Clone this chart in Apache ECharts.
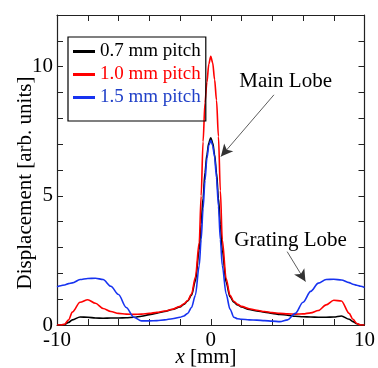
<!DOCTYPE html>
<html>
<head>
<meta charset="utf-8">
<script src="https://cdn.jsdelivr.net/npm/echarts@6/dist/echarts.min.js"></script>
<style>
html, body { margin: 0; padding: 0; background: #fff; }
#chart { width: 378px; height: 368px; }
</style>
</head>
<body>
<div id="chart"></div>
<script>
// x positions [mm]
var xs = [-10, -9.75, -9.5, -9.25, -9, -8.5, -8, -7.5, -7, -6.5, -6, -5.5, -5, -4.5, -4, -3.5, -3, -2.5, -2,
  -1.75, -1.5, -1.25, -1, -0.75, -0.625, -0.5, -0.375, -0.25, -0.125, 0, 0.125, 0.25, 0.375, 0.5, 0.625, 0.75, 1,
  1.25, 1.5, 1.75, 2, 2.5, 3, 3.5, 4, 4.5, 5, 5.5, 6, 6.5, 7, 7.5, 8, 8.5, 9, 9.25, 9.5, 9.75, 10]

// displacement [arb. units]
var pitch07 = [0, 0, 0.02, 0.1, 0.2, 0.31, 0.3, 0.27, 0.26, 0.27, 0.27, 0.28, 0.3, 0.34, 0.4, 0.46, 0.52, 0.6, 0.7,
  0.8, 0.93, 1.15, 1.7, 2.9, 3.9, 4.9, 5.9, 6.6, 7.05, 7.25, 7.05, 6.6, 5.9, 4.9, 3.9, 2.9, 1.65,
  1.1, 0.88, 0.78, 0.7, 0.6, 0.54, 0.5, 0.45, 0.41, 0.38, 0.34, 0.32, 0.31, 0.3, 0.3, 0.31, 0.35, 0.22, 0.13, 0.05, 0, 0]
var pitch10 = [0, 0, 0.03, 0.2, 0.5, 0.88, 0.98, 0.84, 0.64, 0.52, 0.45, 0.42, 0.41, 0.42, 0.45, 0.49, 0.54, 0.61, 0.72,
  0.82, 0.95, 1.2, 1.85, 3.2, 5.0, 7.1, 8.6, 9.4, 10.1, 10.4, 10.15, 9.5, 8.7, 7.3, 5.2, 3.3, 1.8,
  1.15, 0.92, 0.8, 0.72, 0.63, 0.57, 0.52, 0.48, 0.45, 0.43, 0.42, 0.43, 0.47, 0.56, 0.78, 0.96, 0.93, 0.45, 0.22, 0.06, 0, 0]
var pitch15 = [1.48, 1.52, 1.55, 1.6, 1.63, 1.76, 1.8, 1.81, 1.76, 1.5, 1.18, 0.68, 0.3, 0.16, 0.16, 0.17, 0.2, 0.24, 0.3,
  0.35, 0.45, 0.68, 1.15, 2.3, 3.3, 4.5, 5.6, 6.45, 6.95, 7.15, 6.95, 6.5, 5.7, 4.6, 3.3, 2.3, 1.2,
  0.62, 0.3, 0.24, 0.22, 0.2, 0.19, 0.17, 0.15, 0.13, 0.2, 0.45, 0.88, 1.3, 1.62, 1.76, 1.77, 1.74, 1.64, 1.58, 1.54, 1.5, 1.45]

var seriesNames = ['0.7 mm pitch', '1.0 mm pitch', '1.5 mm pitch']
var xLabels = [-10, 0, 10]
var yLabels = [0, 5, 10]

// annotation anchors in data coords
var mainLobeText = [4.87, 9.43]
var mainLobeArrow = [[4.11, 8.91], [0.66, 6.52]]
var gratingText = [5.19, 3.29]
var gratingArrow = [[4.97, 2.84], [6.16, 1.68]]

var serif = "'Liberation Serif', 'DejaVu Serif', serif"

function pairs (ys) {
  return xs.map(function (x, i) { return [x, ys[i]] })
}

var chart = echarts.init(document.getElementById('chart'))

var axisLine = { show: true, onZero: false, lineStyle: { color: '#222', width: 1.2 } }
var tick = { show: true, inside: true, length: 6, lineStyle: { color: '#222', width: 1 } }

function lineSeries (name, ys, color) {
  return {
    name: name,
    type: 'line',
    data: pairs(ys),
    symbol: 'none',
    smooth: 0.3,
    smoothMonotone: 'x',
    lineStyle: { color: color, width: 1.6 },
    itemStyle: { color: color },
    z: 3
  }
}

var blue = lineSeries(seriesNames[2], pitch15, '#1733f0')
blue.markLine = {
  silent: true,
  symbol: ['none', 'arrow'],
  symbolSize: [9, 12],
  label: { show: false },
  lineStyle: { color: '#333', width: 0.8, type: 'solid' },
  data: [
    [{ coord: mainLobeArrow[0] }, { coord: mainLobeArrow[1] }],
    [{ coord: gratingArrow[0] }, { coord: gratingArrow[1] }]
  ]
}
blue.markPoint = {
  silent: true,
  symbol: 'circle',
  symbolSize: 0,
  label: { show: true, position: 'inside', color: '#000', fontFamily: serif, fontSize: 21 },
  data: [
    { coord: mainLobeText, label: { formatter: 'Main Lobe' } },
    { coord: gratingText, label: { formatter: 'Grating Lobe' } }
  ]
}

chart.setOption({
  animation: false,
  backgroundColor: '#fff',
  grid: { left: 57, right: 12, top: 15, bottom: 43 },
  legend: {
    orient: 'vertical',
    left: 68,
    top: 37,
    padding: [5, 5, 14, 5],
    itemGap: 4,
    itemWidth: 22,
    itemHeight: 3,
    icon: 'rect',
    borderColor: '#000',
    borderWidth: 1.2,
    selectedMode: false,
    textStyle: { fontFamily: serif, fontSize: 19, lineHeight: 19 },
    data: [
      { name: seriesNames[0], textStyle: { color: '#000' } },
      { name: seriesNames[1], textStyle: { color: '#ff0000' } },
      { name: seriesNames[2], textStyle: { color: '#2040c8' } }
    ]
  },
  xAxis: [{
    type: 'value',
    min: -10,
    max: 10,
    interval: 2,
    axisLine: axisLine,
    axisTick: tick,
    splitLine: { show: false },
    axisLabel: {
      margin: 5,
      color: '#000',
      fontFamily: serif,
      fontSize: 21,
      formatter: function (v) { return xLabels.indexOf(v) >= 0 ? String(v) : '' }
    }
  }, {
    type: 'value',
    position: 'top',
    min: -10,
    max: 10,
    interval: 2,
    axisLine: axisLine,
    axisTick: tick,
    splitLine: { show: false },
    axisLabel: { show: false }
  }],
  yAxis: [{
    type: 'value',
    min: 0,
    max: 12,
    interval: 1,
    axisLine: axisLine,
    axisTick: tick,
    splitLine: { show: false },
    axisLabel: {
      margin: 4,
      color: '#000',
      fontFamily: serif,
      fontSize: 21,
      formatter: function (v) { return yLabels.indexOf(v) >= 0 ? String(v) : '' }
    }
  }, {
    type: 'value',
    position: 'right',
    min: 0,
    max: 12,
    interval: 1,
    axisLine: axisLine,
    axisTick: tick,
    splitLine: { show: false },
    axisLabel: { show: false }
  }],
  graphic: [{
    type: 'text',
    x: 25,
    y: 183,
    rotation: Math.PI / 2,
    style: {
      text: 'Displacement [arb. units]',
      fill: '#000',
      font: '21px ' + serif,
      align: 'center',
      verticalAlign: 'middle',
      textAlign: 'center',
      textVerticalAlign: 'middle'
    }
  }, {
    type: 'text',
    x: 206,
    y: 357,
    style: {
      text: '{i|x} [mm]',
      fill: '#000',
      font: '21px ' + serif,
      align: 'center',
      verticalAlign: 'middle',
      textAlign: 'center',
      textVerticalAlign: 'middle',
      rich: { i: { fontStyle: 'italic', fontFamily: serif, fontSize: 21 } }
    }
  }],
  series: [
    lineSeries(seriesNames[0], pitch07, '#000000'),
    lineSeries(seriesNames[1], pitch10, '#ff0000'),
    blue
  ]
})
</script>
</body>
</html>
